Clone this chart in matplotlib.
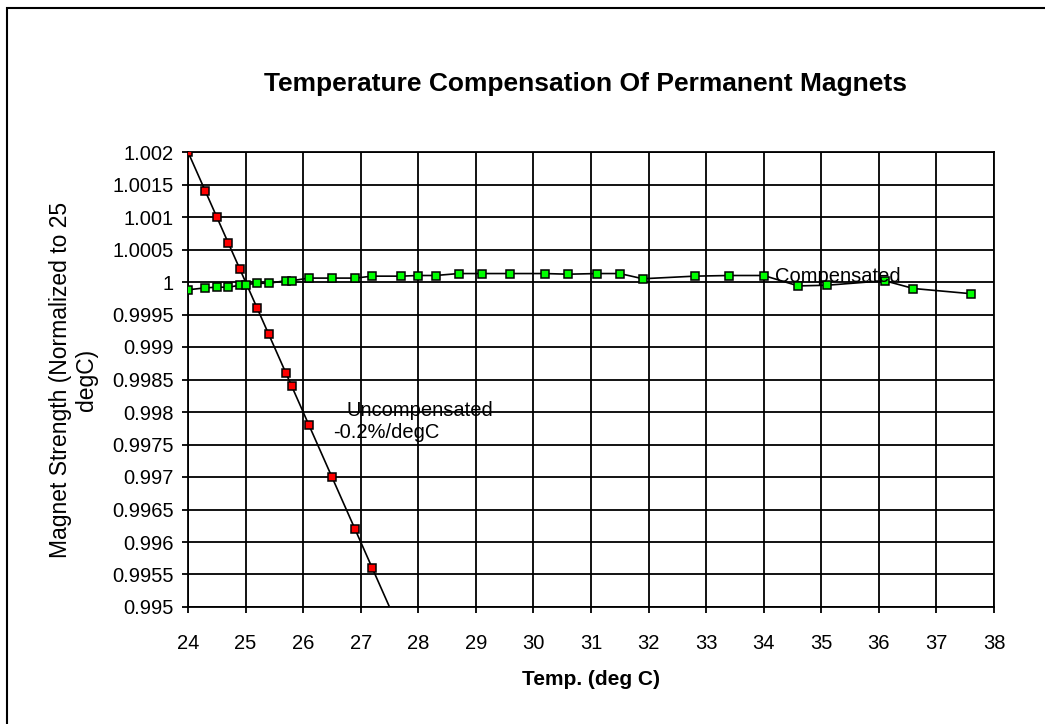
import numpy as np
import matplotlib
matplotlib.use("Agg")
import matplotlib.pyplot as plt
from matplotlib.patches import Rectangle

plt.rcParams['font.family'] = ['Liberation Sans', 'DejaVu Sans']

# --- Data ---
temp_uncomp = [24.0, 24.3, 24.5, 24.7, 24.9, 25.2, 25.4, 25.7, 25.8, 26.1, 26.5, 26.9, 27.2]
strength_uncomp = [1.0020, 1.0014, 1.0010, 1.0006, 1.0002, 0.9996, 0.9992, 0.9986,
                   0.9984, 0.9978, 0.9970, 0.9962, 0.9956]

temp_comp = [24.0, 24.3, 24.5, 24.7, 24.9, 25.0, 25.2, 25.4, 25.7, 25.8, 26.1, 26.5,
             26.9, 27.2, 27.7, 28.0, 28.3, 28.7, 29.1, 29.6, 30.2, 30.6, 31.1, 31.5,
             31.9, 32.8, 33.4, 34.0, 34.6, 35.1, 36.1, 36.6, 37.6]
strength_comp = [0.99988, 0.99991, 0.99992, 0.99992, 0.99995, 0.99996, 0.99998, 0.99998,
                 1.00002, 1.00002, 1.00006, 1.00006, 1.00006, 1.00009, 1.00009, 1.00010,
                 1.00010, 1.00013, 1.00013, 1.00013, 1.00013, 1.00012, 1.00013, 1.00013,
                 1.00005, 1.00009, 1.00010, 1.00010, 0.99994, 0.99995, 1.00002, 0.99990,
                 0.99982]

x_ticks = list(range(24, 39))
y_ticks = [0.995, 0.9955, 0.996, 0.9965, 0.997, 0.9975, 0.998, 0.9985, 0.999,
           0.9995, 1.0, 1.0005, 1.001, 1.0015, 1.002]
y_tick_labels = ['0.995', '0.9955', '0.996', '0.9965', '0.997', '0.9975', '0.998',
                 '0.9985', '0.999', '0.9995', '1', '1.0005', '1.001', '1.0015', '1.002']

W, H = 1045, 724
fig = plt.figure(figsize=(W / 100, H / 100), dpi=100)
fig.patch.set_facecolor('white')

# chart-area border (cropped on right / bottom in the reference)
fig.patches.append(Rectangle((7 / W, -0.1), 1.2, 1 - 8 / H + 0.1, transform=fig.transFigure,
                             fill=False, edgecolor='black', linewidth=1.5))

ax = fig.add_axes([188 / W, 1 - 607 / H, 806 / W, 455 / H])

ax.set_xlim(24, 38)
ax.set_ylim(0.995, 1.002)
ax.set_xticks(x_ticks)
ax.set_xticklabels([str(t) for t in x_ticks])
ax.set_yticks(y_ticks)
ax.set_yticklabels(y_tick_labels)

ax.grid(True, color='black', linewidth=1.3)
ax.set_axisbelow(True)
for s in ax.spines.values():
    s.set_color('black')
    s.set_linewidth(1.3)
ax.tick_params(axis='both', direction='out', length=4.5, width=1.3, colors='black',
               labelsize=14.5, pad=6)
ax.tick_params(axis='x', pad=15)

# uncompensated: linear trend through points, extended
tu = np.array(temp_uncomp)
su = np.array(strength_uncomp)
m, b = np.polyfit(tu, su, 1)
xt = np.array([tu.min(), tu.max() + 0.4])
ax.plot(xt, m * xt + b, color='black', linewidth=1.2, zorder=3)
ax.plot(tu, su, linestyle='none', marker='s', markersize=6,
        markerfacecolor='#ff0000', markeredgecolor='black', markeredgewidth=1.1, zorder=4)

# compensated
ax.plot(temp_comp, strength_comp, color='black', linewidth=1.2, marker='s', markersize=6,
        markerfacecolor='#00ff00', markeredgecolor='black', markeredgewidth=1.1, zorder=4)

ax.text(34.2, 1.00009, 'Compensated', fontsize=14.5, ha='left', va='center', zorder=5)
ax.text(26.76, 0.99803, 'Uncompensated', fontsize=14.5, ha='left', va='center', zorder=5)
ax.text(26.52, 0.99769, '-0.2%/degC', fontsize=14.5, ha='left', va='center', zorder=5)

ax.set_xlabel('Temp. (deg C)', fontsize=15, fontweight='bold', labelpad=12)
ax.set_ylabel('Magnet Strength (Normalized to 25\ndegC)', fontsize=16.5, linespacing=1.15,
              labelpad=10)

fig.text(585 / W, 1 - 84 / H, 'Temperature Compensation Of Permanent Magnets',
         fontsize=19, fontweight='bold', ha='center', va='center')

fig.savefig('out.png', dpi=100)
